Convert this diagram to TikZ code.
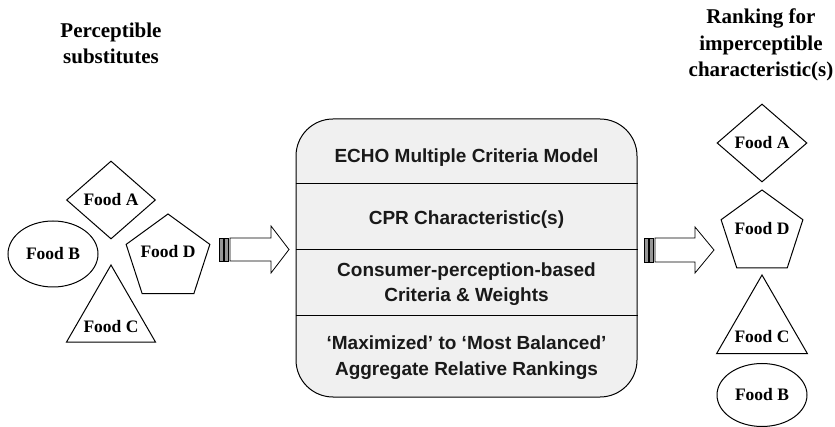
\documentclass[tikz,border=0pt]{standalone}
\usepackage{fontspec}
\setmainfont{Liberation Serif}
\setsansfont{Liberation Sans}
\usetikzlibrary{shapes.geometric}

\definecolor{panel}{RGB}{240,240,240}
\definecolor{bargray}{RGB}{150,150,150}

\tikzset{
  food/.style={font=\bfseries\fontsize{17.5}{20}\selectfont},
  outline/.style={draw, line width=1pt, inner sep=0pt},
  heading/.style={font=\bfseries\fontsize{21}{26.5}\selectfont, align=center, anchor=base},
  row/.style={font=\sffamily\bfseries\fontsize{19}{25.5}\selectfont, align=center, anchor=base, text=black!90},
  bar/.style={draw, fill=bargray, line width=0.6pt},
  fat/.style={draw, fill=white, line width=0.8pt},
}

\begin{document}
\begin{tikzpicture}[x=1pt,y=-1pt]
\useasboundingbox (0,0) rectangle (835,427);

% headings (base = last line)
\node[heading] (hleft) at (111,64) {Perceptible\\substitutes};
\node[heading] (hright) at (761,77) {Ranking for\\imperceptible\\characteristic(s)};

% perceptible substitutes
\node[outline, diamond, minimum width=89pt, minimum height=78pt, food] (lA) at (111,200) {Food A};
\node[outline, ellipse, minimum width=90pt, minimum height=66pt, food] (lB) at (53,254) {Food B};
\node[outline, regular polygon, regular polygon sides=5, minimum size=88pt] (lD) at (168,258) {};
\node[food] (lDt) at (168,252) {Food D};
\node[outline, regular polygon, regular polygon sides=3, minimum size=103pt] (lC) at (111,316.5) {};
\node[food] (lCt) at (111,327) {Food C};

% striped arrow into the model
\draw[bar] (219,238) rectangle (223,261);
\draw[bar] (224,238) rectangle (228,261);
\draw[fat] (230,238) -- (271,238) -- (271,226) -- (289,249.5) -- (271,273) -- (271,261) -- (230,261) -- cycle;

% model box
\node[draw, fill=panel, line width=1pt, rounded corners=37pt, minimum width=341pt, minimum height=278pt] (echo) at (466.5,258) {};
\draw[line width=1pt] (echo.west |- 0,184) -- (echo.east |- 0,184);
\draw[line width=1pt] (echo.west |- 0,250) -- (echo.east |- 0,250);
\draw[line width=1pt] (echo.west |- 0,316) -- (echo.east |- 0,316);
\node[row] (r1) at (466.5,163) {ECHO Multiple Criteria Model};
\node[row] (r2) at (466.5,225) {CPR Characteristic(s)};
\node[row] (r3) at (466.5,302) {Consumer-perception-based\\Criteria \& Weights};
\node[row] (r4) at (466.5,375) {‘Maximized’ to ‘Most Balanced’\\Aggregate Relative Rankings};

% striped arrow out of the model
\draw[bar] (644,238) rectangle (648,262);
\draw[bar] (649,238) rectangle (653,262);
\draw[fat] (655,238) -- (695,238) -- (695,227) -- (714,250) -- (695,273) -- (695,262) -- (655,262) -- cycle;

% ranking
\node[outline, diamond, minimum width=90pt, minimum height=78pt, food] (rA) at (762,143) {Food A};
\node[outline, regular polygon, regular polygon sides=5, minimum size=86pt] (rD) at (762,233) {};
\node[food] (rDt) at (762,229) {Food D};
\node[outline, regular polygon, regular polygon sides=3, minimum size=105pt] (rC) at (762,327.5) {};
\node[food] (rCt) at (762,337) {Food C};
\node[outline, ellipse, minimum width=90pt, minimum height=63pt, food] (rB) at (762,395) {Food B};
\end{tikzpicture}
\end{document}
